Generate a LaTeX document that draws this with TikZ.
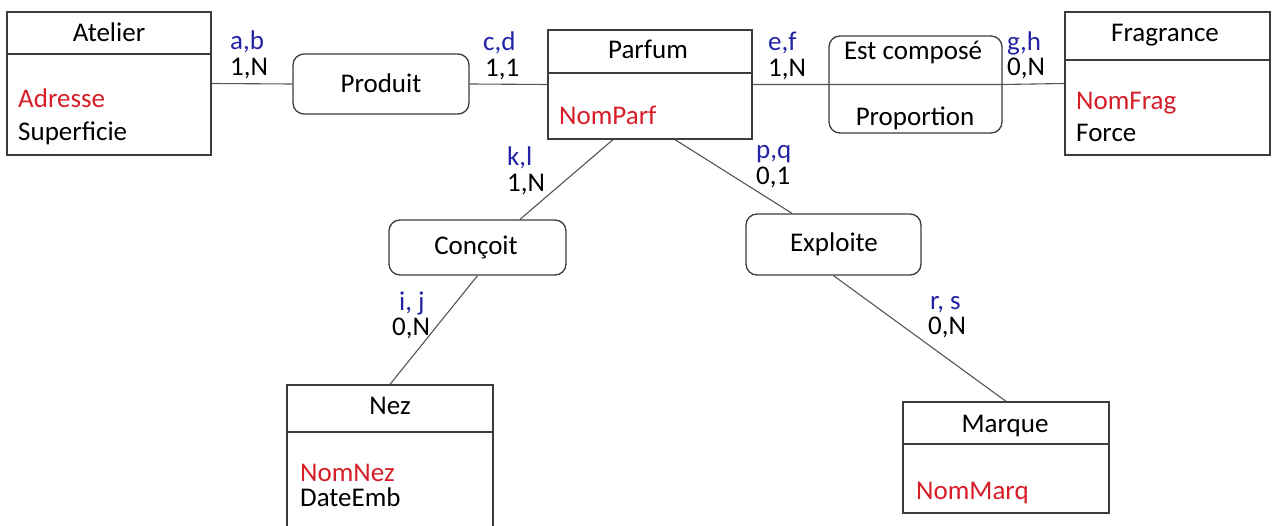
\documentclass[tikz,border=0pt]{standalone}
\usepackage{fontspec}
\setmainfont{Carlito}
\definecolor{linec}{RGB}{60,60,60}
\definecolor{connc}{RGB}{85,85,85}
\definecolor{keyred}{RGB}{215,30,40}
\definecolor{cardblue}{RGB}{35,35,165}
\begin{document}
\begin{tikzpicture}[x=1pt,y=-1pt,
  every node/.style={font=\fontsize{27}{30}\selectfont},
  entity/.style={draw=linec, line width=1.3pt, inner sep=0pt},
  assoc/.style={draw=linec, line width=1.3pt, rounded corners=11pt, inner sep=0pt},
  hline/.style={draw=linec, line width=1.3pt},
  lnk/.style={draw=connc, line width=1.1pt},
  title/.style={anchor=base, inner sep=0pt},
  keyattr/.style={anchor=base west, inner sep=0pt, text=keyred},
  attr/.style={anchor=base west, inner sep=0pt, text=black},
  role/.style={anchor=base west, inner sep=0pt, text=cardblue},
  mult/.style={anchor=base west, inner sep=0pt, text=black}]
\useasboundingbox (0,0) rectangle (1272,526);
\clip (0,0) rectangle (1272,526);
\fill[white] (0,0) rectangle (1272,526);

% entities
\node[entity, minimum width=204pt, minimum height=143pt] (atelier) at (109,83.5) {};
\node[entity, minimum width=204pt, minimum height=109pt] (parfum) at (650,84.5) {};
\node[entity, minimum width=205pt, minimum height=143pt] (fragrance) at (1167.5,83.5) {};
\node[entity, minimum width=206pt, minimum height=175pt] (nez) at (390,472.5) {};
\node[entity, minimum width=206pt, minimum height=111pt] (marque) at (1006,457.5) {};

% associations
\node[assoc, minimum width=176pt, minimum height=60pt] (produit) at (381,84) {};
\node[assoc, minimum width=173pt, minimum height=97pt] (compose) at (915.5,84.5) {};
\node[assoc, minimum width=177pt, minimum height=55pt] (concoit) at (477.5,247.5) {};
\node[assoc, minimum width=175pt, minimum height=61pt] (exploite) at (833.5,244.5) {};

% header separators
\draw[hline] (atelier.west |- 0,54) -- (atelier.east |- 0,54);
\draw[hline] (parfum.west |- 0,73) -- (parfum.east |- 0,73);
\draw[hline] (fragrance.west |- 0,60) -- (fragrance.east |- 0,60);
\draw[hline] (nez.west |- 0,432) -- (nez.east |- 0,432);
\draw[hline] (marque.west |- 0,444) -- (marque.east |- 0,444);

% connectors
\draw[lnk] (atelier.east) -- (produit.west);
\draw[lnk] (produit.east) -- (parfum.west);
\draw[lnk] (parfum.east) -- (compose.west) -- (compose.east) -- (fragrance.west);
\draw[lnk] ([xshift=-37pt]parfum.south) -- ([xshift=42.5pt]concoit.north);
\draw[lnk] ([xshift=25pt]parfum.south) -- ([xshift=-41.5pt]exploite.north);
\draw[lnk] (concoit.south) -- (nez.north);
\draw[lnk] (exploite.south) -- (marque.north);

% entity texts
\node[title] (tatelier) at (109,42) {Atelier};
\node[keyattr] (kadresse) at (18,108) {Adresse};
\node[attr] (asuperficie) at (18,141) {Superficie};

\node[title] (tparfum) at (648,59) {Parfum};
\node[keyattr] (knomparf) at (559,125) {NomParf};

\node[title] (tfragrance) at (1165,42) {Fragrance};
\node[keyattr] (knomfrag) at (1076,110) {NomFrag};
\node[attr] (aforce) at (1076,142) {Force};

\node[title] (tnez) at (390,415) {Nez};
\node[keyattr] (knomnez) at (300,481) {NomNez};
\node[attr] (adateemb) at (300,506) {DateEmb};

\node[title] (tmarque) at (1005,432) {Marque};
\node[keyattr] (knommarq) at (916,499) {NomMarq};

% association texts
\node[title] (tproduit) at (381,93) {Produit};
\node[title] (tcompose) at (913,60) {Est composé};
\node[title] (tproportion) at (915,126) {Proportion};
\node[title] (tconcoit) at (476,255) {Conçoit};
\node[title] (texploite) at (834,252) {Exploite};

% cardinalities
\node[role] (rab) at (230,50) {a,b};
\node[mult] (mab) at (230,76) {1,N};
\node[role] (rcd) at (483,51) {c,d};
\node[mult] (mcd) at (485,77) {1,1};
\node[role] (ref) at (768,51) {e,f};
\node[mult] (mef) at (768,77) {1,N};
\node[role] (rgh) at (1007,51) {g,h};
\node[mult] (mgh) at (1007,76) {0,N};
\node[role] (rkl) at (507,166) {k,l};
\node[mult] (mkl) at (507,192) {1,N};
\node[role] (rpq) at (756,159) {p,q};
\node[mult] (mpq) at (756,185) {0,1};
\node[role] (rij) at (399,311) {i, j};
\node[mult] (mij) at (392,336) {0,N};
\node[role] (rrs) at (930,310) {r, s};
\node[mult] (mrs) at (928,335) {0,N};
\end{tikzpicture}
\end{document}
